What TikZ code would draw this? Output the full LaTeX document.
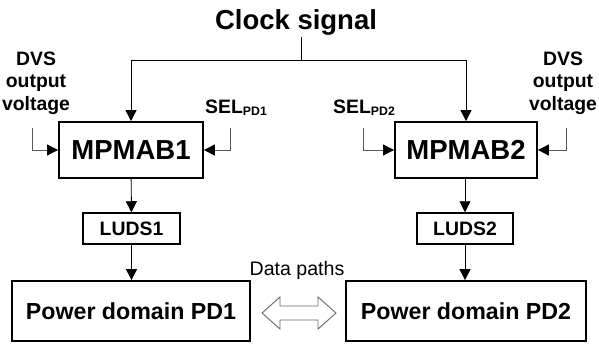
\documentclass[tikz,border=0pt]{standalone}
\usepackage{fontspec}
\setmainfont{Liberation Sans}
\usetikzlibrary{arrows.meta}

\tikzset{
  blk/.style={draw, line width=1.8pt, inner sep=0pt},
  bigtxt/.style={font=\fontsize{27.5}{30}\selectfont\bfseries},
  midtxt/.style={font=\fontsize{23.2}{26}\selectfont\bfseries},
  smtxt/.style={font=\fontsize{19.4}{22.5}\selectfont\bfseries, align=center, inner sep=0pt},
  arr/.style={line width=0.9pt, -{Triangle[length=11pt,width=11pt]}},
  feed/.style={draw=black!65, line width=0.9pt, -{Triangle[length=11pt,width=11pt,color=black]}}
}

\begin{document}
\begin{tikzpicture}[x=1pt,y=-1pt]
  \useasboundingbox (0,0) rectangle (599,343);
  % clock
  \node[bigtxt, inner sep=2pt, anchor=base] (clk) at (296,29) {Clock signal};
  \coordinate (split) at (301,60);
  % blocks
  \node[blk, bigtxt, minimum width=144, minimum height=56] (mp1) at (131,150) {MPMAB1};
  \node[blk, bigtxt, minimum width=142, minimum height=56] (mp2) at (466,150) {MPMAB2};
  \node[blk, smtxt, line width=1.5pt, minimum width=97, minimum height=31] (luds1) at (131.5,228.5) {LUDS1};
  \node[blk, smtxt, line width=1.5pt, minimum width=96, minimum height=31] (luds2) at (465,228.5) {LUDS2};
  \node[blk, midtxt, minimum width=238, minimum height=60] (pd1) at (131,311) {Power domain PD1};
  \node[blk, midtxt, minimum width=240, minimum height=60] (pd2) at (466,311) {Power domain PD2};
  % side inputs
  \node[smtxt] (dvs1) at (36,83) {DVS\\output\\voltage};
  \node[smtxt] (dvs2) at (563,83) {DVS\\output\\voltage};
  \node[smtxt, anchor=base west] (sel1) at (205,113) {SEL\raisebox{-2pt}{\fontsize{12.3}{12}\selectfont PD1}};
  \node[smtxt, anchor=base west] (sel2) at (333,113) {SEL\raisebox{-2pt}{\fontsize{12.3}{12}\selectfont PD2}};
  \coordinate (dvs1in) at (32,128);
  \coordinate (sel1in) at (230,128);
  \coordinate (sel2in) at (363,128);
  \coordinate (dvs2in) at (566,128);
  % connectors
  \draw[line width=0.9pt] (clk.south -| split) -- (split);
  \draw[arr] (split) -| (mp1.north);
  \draw[arr] (split) -| (mp2.north);
  \draw[feed] (dvs1in) |- (mp1.west);
  \draw[feed] (sel1in) |- (mp1.east);
  \draw[feed] (sel2in) |- (mp2.west);
  \draw[feed] (dvs2in) |- (mp2.east);
  \draw[arr] (mp1) -- (luds1);
  \draw[arr] (mp2.south -| luds2) -- (luds2);
  \draw[arr] (luds1) -- (pd1.north -| luds1);
  \draw[arr] (luds2) -- (pd2.north -| luds2);
  % data paths
  \node[font=\fontsize{19.6}{22}\selectfont, anchor=base, inner sep=0pt] (dpl) at (297,275) {Data paths};
  \draw[black!60, line width=0.9pt, line join=miter]
    (262,313) -- (280,297) -- (280,306) -- (318,306) -- (318,297) -- (336,313)
    -- (318,329) -- (318,320) -- (280,320) -- (280,329) -- cycle;
\end{tikzpicture}
\end{document}
